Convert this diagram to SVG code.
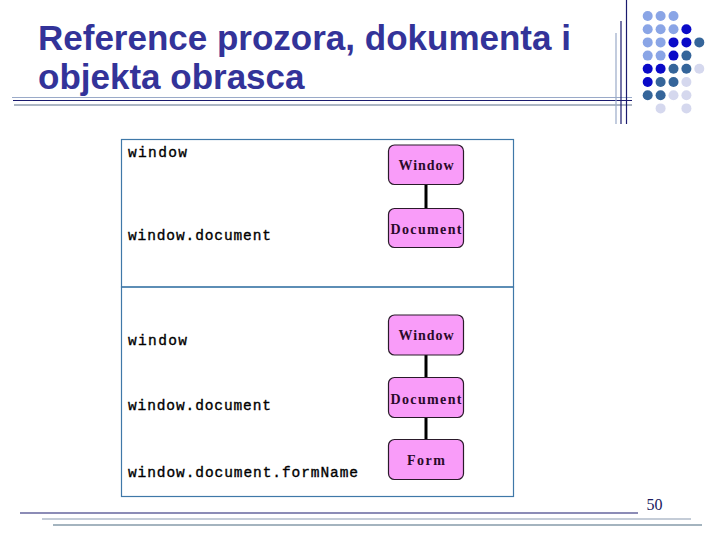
<svg xmlns="http://www.w3.org/2000/svg" width="720" height="540" viewBox="0 0 720 540">
<style>
.title{font-family:"Liberation Sans",Arial,sans-serif;font-size:35px;font-weight:bold;fill:#333399}
.code{font-family:"Liberation Mono","Courier New",monospace;font-size:14.5px;fill:#000;stroke:#000;stroke-width:0.35}
.node rect{fill:#f99cf9;stroke:#2a1a2a;stroke-width:1.2}
.node text{font-family:"Liberation Serif","Times New Roman",serif;font-size:14px;font-weight:bold;fill:#2a0a2a;text-anchor:middle}
.conn line{stroke:#000;stroke-width:3}
.frame{fill:none;stroke:#3f78a8;stroke-width:1.2}
.lb{fill:#8aa5e6}.db{fill:#0a0ac8}.sb{fill:#35659a}.vl{fill:#d5d8ee}
</style>
<rect width="720" height="540" fill="#fff"/>
<g id="decor">
<line x1="12" y1="97.5" x2="632" y2="97.5" stroke="#9aaac8" stroke-width="1"/>
<line x1="13" y1="100.5" x2="632" y2="100.5" stroke="#1a1a6e" stroke-width="1.2"/>
<line x1="14" y1="105" x2="632" y2="105" stroke="#5a6e8a" stroke-width="1.2"/>
<line x1="616" y1="33" x2="616" y2="124" stroke="#9aaac8" stroke-width="1.2"/>
<line x1="621" y1="21" x2="621" y2="124" stroke="#1a1a6e" stroke-width="1.2"/>
<line x1="626.5" y1="0" x2="626.5" y2="124" stroke="#1a1a6e" stroke-width="1.2"/>
<line x1="20" y1="513" x2="638" y2="513" stroke="#1a1a6e" stroke-width="1.2"/>
<line x1="42" y1="519" x2="691" y2="519" stroke="#8a9ab0" stroke-width="1.2"/>
<line x1="53" y1="525" x2="702" y2="525" stroke="#4a6a80" stroke-width="1.2"/>
<g id="dots">
<circle class="lb" cx="647.7" cy="16" r="5"/><circle class="lb" cx="660.6" cy="16" r="5"/><circle class="lb" cx="673.5" cy="16" r="5"/>
<circle class="lb" cx="647.7" cy="29.2" r="5"/><circle class="lb" cx="660.6" cy="29.2" r="5"/><circle class="lb" cx="673.5" cy="29.2" r="5"/><circle class="db" cx="686.4" cy="29.2" r="5"/>
<circle class="lb" cx="647.7" cy="42.4" r="5"/><circle class="lb" cx="660.6" cy="42.4" r="5"/><circle class="db" cx="673.5" cy="42.4" r="5"/><circle class="db" cx="686.4" cy="42.4" r="5"/><circle class="sb" cx="699.3" cy="42.4" r="5"/>
<circle class="lb" cx="647.7" cy="55.6" r="5"/><circle class="lb" cx="660.6" cy="55.6" r="5"/><circle class="db" cx="673.5" cy="55.6" r="5"/><circle class="sb" cx="686.4" cy="55.6" r="5"/>
<circle class="db" cx="647.7" cy="68.8" r="5"/><circle class="db" cx="660.6" cy="68.8" r="5"/><circle class="sb" cx="673.5" cy="68.8" r="5"/><circle class="sb" cx="686.4" cy="68.8" r="5"/><circle class="vl" cx="699.3" cy="68.8" r="5"/>
<circle class="db" cx="647.7" cy="82" r="5"/><circle class="sb" cx="660.6" cy="82" r="5"/><circle class="sb" cx="673.5" cy="82" r="5"/><circle class="vl" cx="686.4" cy="82" r="5"/>
<circle class="sb" cx="647.7" cy="95.2" r="5"/><circle class="sb" cx="660.6" cy="95.2" r="5"/><circle class="vl" cx="673.5" cy="95.2" r="5"/><circle class="vl" cx="686.4" cy="95.2" r="5"/>
<circle class="vl" cx="660.6" cy="108.4" r="5"/><circle class="vl" cx="686.4" cy="108.4" r="5"/>
</g>
</g>
<text class="title" x="38" y="50">Reference prozora, dokumenta i</text>
<text class="title" x="38" y="89">objekta obrasca</text>
<text x="646.5" y="510" font-family="'Liberation Serif','Times New Roman',serif" font-size="16" fill="#1a1a5e">50</text>
<rect class="frame" x="121.5" y="139.5" width="392" height="147.5"/>
<rect class="frame" x="121.5" y="287" width="392" height="209.5"/>
<text class="code" x="128" y="157" textLength="59" lengthAdjust="spacing">window</text>
<text class="code" x="128" y="240" textLength="143" lengthAdjust="spacing">window.document</text>
<text class="code" x="128" y="345" textLength="59" lengthAdjust="spacing">window</text>
<text class="code" x="128" y="409.5" textLength="143" lengthAdjust="spacing">window.document</text>
<text class="code" x="128" y="477" textLength="230" lengthAdjust="spacing">window.document.formName</text>
<g id="connectors" class="conn">
<line x1="426" y1="184.5" x2="426" y2="208.5"/>
<line x1="426" y1="355" x2="426" y2="377.5"/>
<line x1="426" y1="417.5" x2="426" y2="439.5"/>
</g>
<g id="node-window1" class="node"><rect x="388.5" y="145" width="75" height="39.5" rx="6"/><text x="426" y="169.5" textLength="55" lengthAdjust="spacing">Window</text></g>
<g id="node-document1" class="node"><rect x="388.5" y="208.5" width="75" height="39" rx="6"/><text x="426" y="234" textLength="71" lengthAdjust="spacing">Document</text></g>
<g id="node-window2" class="node"><rect x="388.5" y="315" width="75" height="40" rx="6"/><text x="426" y="340" textLength="55" lengthAdjust="spacing">Window</text></g>
<g id="node-document2" class="node"><rect x="388.5" y="377.5" width="75" height="40" rx="6"/><text x="426" y="403.5" textLength="71" lengthAdjust="spacing">Document</text></g>
<g id="node-form" class="node"><rect x="388.5" y="439.5" width="75" height="40" rx="6"/><text x="426" y="465" textLength="38" lengthAdjust="spacing">Form</text></g>
</svg>
